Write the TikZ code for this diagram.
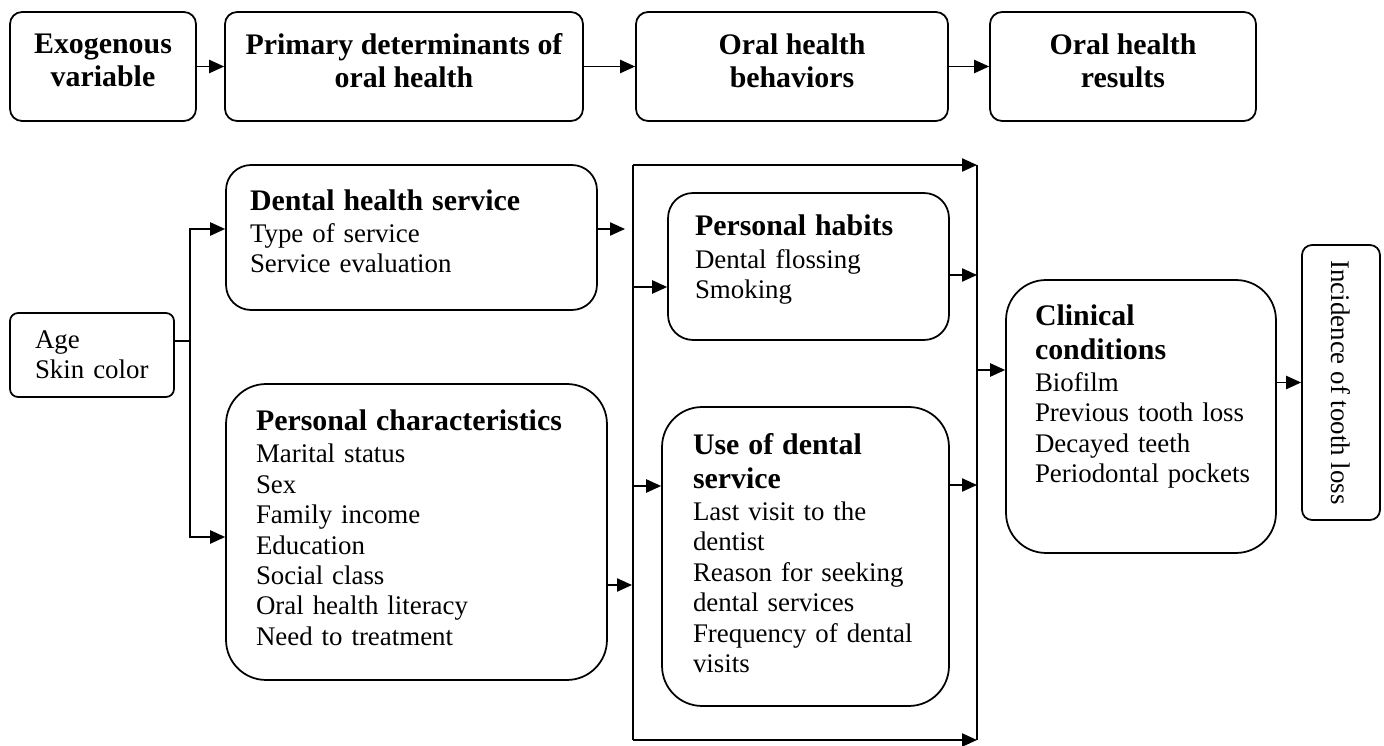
\documentclass[tikz,border=0pt]{standalone}
\usepackage{fontspec}
\setmainfont{Liberation Serif}
\usetikzlibrary{arrows.meta,positioning}
\newcommand{\hdr}{\fontsize{17}{19.3}\selectfont\bfseries}
\newcommand{\itm}{\fontsize{15.3}{17.3}\selectfont}
\tikzstyle{stage} = [rectangle, rounded corners=0.24cm, draw=black, line width=1pt, minimum height=2.18cm, align=center, font=\fontsize{17}{18.7}\selectfont\bfseries]
\tikzstyle{factor} = [rectangle, draw=black, line width=1pt, align=left, font=\itm, inner ysep=4pt]
\tikzstyle{arrow} = [line width=0.9pt,->,>={Triangle[length=8.5pt,width=7.5pt]}]
\tikzstyle{link} = [line width=0.9pt]

\begin{document}
\begin{tikzpicture}[x=0.02cm,y=-0.02cm]
\useasboundingbox (0,0) rectangle (1384,746);
% stages
\node (exo) [stage, minimum width=3.72cm] at (103,66.5) {Exogenous\\variable\rule[-7pt]{0pt}{0pt}};
\node (prim) [stage, minimum width=7.16cm] at (404,66.5) {Primary determinants of\\oral health\rule[-7pt]{0pt}{0pt}};
\node (behav) [stage, minimum width=6.24cm] at (792,66.5) {Oral health\\behaviors\rule[-7pt]{0pt}{0pt}};
\node (result) [stage, minimum width=5.32cm] at (1123,66.5) {Oral health\\results\rule[-7pt]{0pt}{0pt}};
\draw[arrow] (exo) -- (prim);
\draw[arrow] (prim) -- (behav);
\draw[arrow] (behav) -- (result);
% factors
\node (age) [factor, rounded corners=0.16cm, minimum width=3.28cm, minimum height=1.68cm, text width=2.28cm, inner xsep=0.5cm] at (92,355) {Age\\Skin~color};
\node (dental) [factor, rounded corners=0.5cm, minimum width=7.42cm, minimum height=2.9cm, text width=6.46cm, inner xsep=0.48cm] at (411.5,237.5) {{\hdr Dental health service}\\[1pt]Type of service\\Service evaluation\rule[-7pt]{0pt}{0pt}};
\node (pchar) [factor, rounded corners=0.8cm, minimum width=7.62cm, minimum height=5.92cm, text width=6.42cm, inner xsep=0.6cm] at (416.5,532) {{\hdr Personal characteristics}\\[1pt]Marital status\\Sex\\Family income\\Education\\Social class\\Oral health literacy\\Need to treatment\rule[-5pt]{0pt}{0pt}};
\node (habits) [factor, rounded corners=0.5cm, minimum width=5.62cm, minimum height=2.94cm, text width=4.54cm, inner xsep=0.54cm] at (808.5,266.5) {{\hdr Personal habits}\\[1pt]Dental flossing\\Smoking\rule[-11pt]{0pt}{0pt}};
\node (use) [factor, rounded corners=0.8cm, minimum width=5.74cm, minimum height=5.98cm, text width=4.5cm, inner xsep=0.62cm] at (805.5,556.5) {{\hdr Use of dental}\\[2pt]{\hdr service}\\[1pt]Last visit to the\\dentist\\Reason for seeking\\dental services\\Frequency~of~dental\\visits\rule[-4pt]{0pt}{0pt}};
\node (clin) [factor, rounded corners=0.8cm, minimum width=5.4cm, minimum height=5.46cm, text width=4.24cm, inner xsep=0.58cm] at (1141,416.5) {{\hdr Clinical}\\[2pt]{\hdr conditions}\\[1pt]Biofilm\\Previous~tooth~loss\\Decayed teeth\\Periodontal~pockets\rule[-26pt]{0pt}{0pt}};
\node (incid) [factor, rounded corners=0.2cm, rotate=-90, minimum width=5.5cm, minimum height=1.56cm, align=center] at (1341,382.5) {Incidence of tooth loss};
% fork from age
\coordinate (fork) at (190,341);
\coordinate (fork-top) at (190,229);
\coordinate (fork-bot) at (190,537);
\draw[link] (fork -| age.east) -- (fork);
\draw[arrow] (fork) -- (fork-top) -- (fork-top -| dental.west);
\draw[arrow] (fork) -- (fork-bot) -- (fork-bot -| pchar.west);
\coordinate (dental-out) at (625,229);
\coordinate (pchar-out) at (632,585);
\draw[arrow] (dental-out -| dental.east) -- (dental-out);
\draw[arrow] (pchar-out -| pchar.east) -- (pchar-out);
% behaviour frame
\coordinate (lb-top) at (633,165);
\coordinate (lb-bot) at (633,740);
\coordinate (rb-top) at (977,165);
\coordinate (rb-bot) at (977,740);
\draw[link] (lb-top) -- (lb-bot);
\draw[link] (rb-top) -- (rb-bot);
\draw[arrow] (lb-top) -- (rb-top);
\draw[arrow] (lb-bot) -- (rb-bot);
\coordinate (habits-in) at (633,287);
\coordinate (use-in) at (633,486);
\coordinate (habits-out) at (977,275);
\coordinate (use-out) at (977,485);
\coordinate (clin-in) at (977,370);
\draw[arrow] (habits-in) -- (habits-in -| habits.west);
\draw[arrow] (use-in) -- (use-in -| use.west);
\draw[arrow] (habits-out -| habits.east) -- (habits-out);
\draw[arrow] (use-out -| use.east) -- (use-out);
\draw[arrow] (clin-in) -- (clin-in -| clin.west);
\draw[arrow] (clin.east |- incid) -- (incid);
\end{tikzpicture}
\end{document}
